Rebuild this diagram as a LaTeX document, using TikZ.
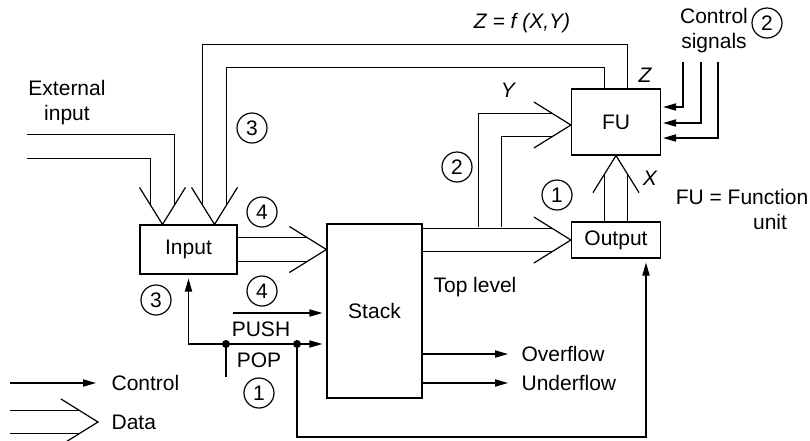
\documentclass[tikz,border=0pt]{standalone}
\usepackage{fontspec}
\setmainfont{Liberation Sans}
\usetikzlibrary{arrows.meta,positioning,calc,backgrounds}

% open V head of a data path: tip coordinate, direction
\newcommand{\datahead}[2]{%
  \draw[shift={(#1)}, rotate=#2] (-18.5pt,11.5pt) -- (0,0) -- (-18.5pt,-11.5pt);}

\begin{document}
\begin{tikzpicture}[
    x=0.5pt, y=-0.5pt,
    font=\fontsize{10.5}{12.5}\selectfont,
    line width=0.6pt,
    box/.style={rectangle, draw, inner sep=0pt},
    num/.style={circle, draw, inner sep=0pt, minimum size=15pt},
    lbl/.style={inner sep=0pt},
    dot/.style={circle, fill, inner sep=0pt, minimum size=4pt},
    ctrl/.style={-{Triangle[length=6.5pt, width=3.6pt]}, shorten >=2pt},
    data/.style={double, double distance=11.4pt, shorten >=9.65pt},
]
    \useasboundingbox (0,0) rectangle (810,440);

    % Units
    \node[box, minimum width=48.5pt, minimum height=24.5pt] (inp) at (188.5,249.5) {Input};
    \node[box, minimum width=47.5pt, minimum height=87pt] (stack) at (374.5,311) {Stack};
    \node[box, minimum width=44.5pt, minimum height=18pt] (out) at (616,240) {Output};
    \node[box, minimum width=44.5pt, minimum height=33pt] (fu) at (616,122) {FU};

    % Labels
    \node[align=center] (ext) at (67,102.5) {External\\input};
    \node (zfun) at (522,23) {\itshape Z = f (X,Y)};
    \node (zlbl) at (645,75) {\itshape Z};
    \node (ylbl) at (508,90) {\itshape Y};
    \node (xlbl) at (650,178) {\itshape X};
    \node[align=center] (csig) at (714,31) {Control\\signals};
    \node (fudef) at (742,197) {FU = Function};
    \node (fuunit) at (770,222) {unit};
    \node (toplvl) at (475,287) {Top level};
    \node (pushlbl) at (261,329) {PUSH};
    \node (poplbl) at (259,360) {POP};
    \node[lbl, anchor=west] (ovf) at (521,354) {Overflow};
    \node[lbl, anchor=west] (udf) at (521,383) {Underflow};
    \node[lbl, anchor=west] (lctrl) at (111,383) {Control};
    \node[lbl, anchor=west] (ldata) at (111,422) {Data};

    % Step numbers
    \foreach \name/\px/\py/\n in {c3a/252/128/3, c4a/262/212/4, c4b/262/291/4,
        c3b/156/300/3, c1b/259/393/1, c2a/457/167/2, c1a/557/195/1, c2b/767/23/2}
        \node[num] (\name) at (\px,\py) {\n};

    % Data paths
    \coordinate (inL) at ([xshift=-13pt]inp.north);
    \coordinate (inR) at ([xshift=13pt]inp.north);
    \coordinate (stkin) at (stack.west |- inp.east);
    \coordinate (fuY) at ([yshift=-1.5pt]fu.west);
    \coordinate (ext0) at (27,146.5);
    \coordinate (ysplit) at (490,227);
    \coordinate (ld0) at (10,422);
    \coordinate (ldtip) at ([xshift=-6.5pt]ldata.west);
    \begin{scope}[on background layer]
        \draw[data] (ext0) -| (inL);
        \draw[data] (fu.north) -- ++(0,-32.5) -| (inR);
        \draw[data] (inp.east) -- (stkin);
        \draw[data] (ysplit) |- (fuY);
        \draw[data] (stack.east |- out.west) -- (out.west);
        \draw[data] (out.north) -- (fu.south);
        \draw[data] (ld0) -- (ldtip);
    \end{scope}
    \foreach \tip/\ang in {inL/-90, inR/-90, stkin/0, fuY/0, out.west/0, fu.south/90, ldtip/0}
        \datahead{\tip}{\ang};

    % Control signals into FU
    \foreach \i/\x/\dy in {1/683/7.5, 2/701/-0.5, 3/718/-8} {
        \coordinate (cs\i) at (\x,62);
        \draw[ctrl, shorten >=1pt] (cs\i) |- ([yshift=\dy pt]fu.east);
    }

    % PUSH / POP
    \coordinate (push0) at (233,313);
    \coordinate (pop0) at (226,377);
    \node[dot] (d1) at (226,344) {};
    \node[dot] (d2) at (297,344) {};
    \coordinate (outin) at ([xshift=15pt]out.south);
    \draw[ctrl] (push0) -- (stack.west |- push0);
    \draw (pop0) -- (d1.center);
    \draw[ctrl] (d1.center) -| (inp.south);
    \draw[ctrl] (d1.center) -- (stack.west |- d1);
    \draw[ctrl] (d2.center) -- ++(0,93) -| (outin);

    % Overflow / underflow
    \draw[ctrl, shorten >=6.5pt] (stack.east |- ovf.west) -- (ovf.west);
    \draw[ctrl, shorten >=6.5pt] (stack.east |- udf.west) -- (udf.west);

    % Legend
    \coordinate (lc0) at (10,383);
    \draw[ctrl, shorten >=7.5pt] (lc0) -- (lctrl.west);
\end{tikzpicture}
\end{document}
